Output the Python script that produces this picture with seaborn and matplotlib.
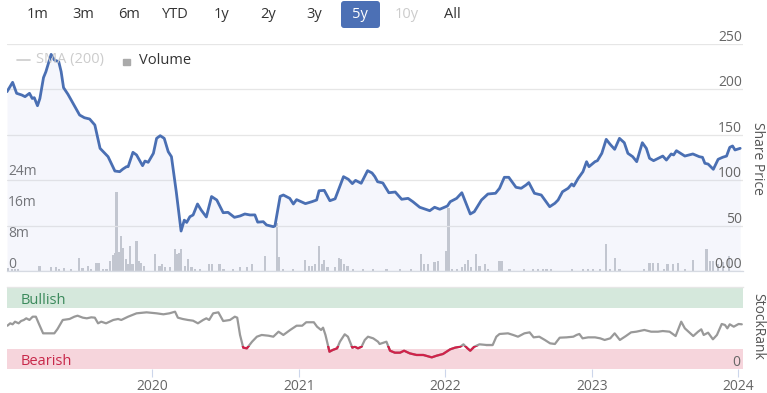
import numpy as np
import pandas as pd
import matplotlib
matplotlib.use("Agg")
import matplotlib.pyplot as plt
import matplotlib.transforms as mtrans
from matplotlib.patches import FancyBboxPatch, Rectangle
import seaborn as sns

sns.set_style("white")
plt.rcParams['font.family'] = ['Open Sans', 'DejaVu Sans']

# ---------------- data ----------------
price_dates = ["2019-01-04","2019-01-18","2019-01-28","2019-02-10","2019-02-18","2019-03-01","2019-03-08","2019-03-13",
 "2019-03-21","2019-03-27","2019-04-05","2019-04-11","2019-04-24","2019-05-02","2019-05-13","2019-05-19","2019-05-25",
 "2019-06-05","2019-07-04","2019-07-16","2019-07-29","2019-08-11","2019-08-24","2019-09-13","2019-09-30","2019-10-12",
 "2019-10-20","2019-10-29","2019-11-02","2019-11-14","2019-11-23","2019-12-08","2019-12-14","2019-12-22","2020-01-04",
 "2020-01-12","2020-01-21","2020-01-31","2020-02-10","2020-02-18","2020-03-01","2020-03-13","2020-03-21","2020-03-27",
 "2020-04-04","2020-04-12","2020-04-23","2020-05-02","2020-05-15","2020-05-28","2020-06-10","2020-06-26","2020-07-08",
 "2020-07-24","2020-08-07","2020-08-19","2020-09-01","2020-09-13","2020-09-20","2020-10-04","2020-10-12","2020-10-29",
 "2020-11-02","2020-11-15","2020-11-23","2020-12-09","2020-12-18","2020-12-26","2021-01-17","2021-02-02","2021-02-14",
 "2021-02-20","2021-03-05","2021-03-19","2021-04-01","2021-04-22","2021-05-04","2021-05-14","2021-05-22","2021-06-05",
 "2021-06-21","2021-07-02","2021-07-09","2021-07-16","2021-07-29","2021-08-13","2021-08-29","2021-09-14","2021-09-30",
 "2021-10-12","2021-10-29","2021-11-23","2021-12-05","2021-12-18","2022-01-06","2022-01-13","2022-01-29","2022-02-11",
 "2022-02-23","2022-03-04","2022-03-14","2022-04-01","2022-04-17","2022-05-06","2022-05-16","2022-05-28","2022-06-08",
 "2022-06-26","2022-07-09","2022-07-21","2022-07-28","2022-08-11","2022-08-28","2022-09-18","2022-10-01","2022-10-09",
 "2022-10-20","2022-11-03","2022-11-12","2022-11-17","2022-11-28","2022-12-10","2022-12-19","2022-12-25","2023-01-09",
 "2023-01-15","2023-01-26","2023-02-06","2023-02-15","2023-02-27","2023-03-11","2023-03-23","2023-04-01","2023-04-13",
 "2023-04-23","2023-05-07","2023-05-17","2023-05-25","2023-06-04","2023-06-27","2023-07-06","2023-07-18","2023-07-24",
 "2023-07-31","2023-08-21","2023-09-10","2023-09-26","2023-10-04","2023-10-10","2023-10-18","2023-10-31","2023-11-12",
 "2023-11-23","2023-12-03","2023-12-11","2023-12-18","2023-12-24","2024-01-06"]
price_values = [197.5,207.8,195.7,193.8,192.0,195.7,190.0,190.9,182.0,190.0,213.0,219.5,238.6,232.4,230.5,219.5,201.9,
 194.6,171.8,168.8,167.4,160.8,135.1,125.9,110.1,109.4,112.3,114.9,114.9,130.7,127.8,116.0,121.1,119.7,129.6,
 146.1,149.0,146.1,131.4,125.9,87.3,44.0,56.0,53.5,59.8,61.7,73.8,67.2,59.5,82.0,78.2,64.2,64.6,
 59.1,60.6,62.8,61.7,61.8,53.8,54.3,50.7,48.8,49.6,82.2,83.7,80.0,73.8,78.6,74.2,76.3,78.2,
 88.4,88.8,77.4,79.5,103.9,101.0,96.2,99.8,96.6,110.5,108.0,104.0,98.3,97.0,86.2,87.0,79.0,80.0,
 76.3,70.2,66.4,70.2,68.0,71.6,76.3,80.0,86.2,72.7,62.8,65.3,78.2,84.8,85.6,91.1,103.2,103.2,
 92.2,91.1,94.7,97.4,85.6,83.7,70.8,74.6,78.2,87.3,91.1,95.8,93.6,102.0,109.4,120.4,114.9,120.4,
 121.5,129.6,145.0,139.9,134.0,146.1,141.3,129.6,125.9,120.4,141.3,135.1,124.1,121.5,126.6,122.2,128.9,127.8,
 132.5,126.6,128.9,125.9,125.2,118.6,117.8,112.0,123.0,125.2,126.6,136.2,137.7,133.3,135.1]

volume_dates = ["2019-01-07","2019-01-16","2019-01-24","2019-02-01","2019-03-26","2019-04-24","2019-05-06","2019-05-14",
 "2019-05-27","2019-06-13","2019-07-03","2019-07-11","2019-07-24","2019-08-02","2019-08-15","2019-08-21","2019-09-01",
 "2019-09-09","2019-09-17","2019-09-25","2019-09-30","2019-10-04","2019-10-08","2019-10-12","2019-10-16","2019-10-20",
 "2019-10-27","2019-11-02","2019-11-06","2019-11-13","2019-11-23","2019-11-29","2019-12-05","2019-12-11","2020-01-08",
 "2020-01-19","2020-01-25","2020-02-02","2020-02-14","2020-02-26","2020-03-03","2020-03-09","2020-03-13","2020-03-22",
 "2020-03-30","2020-04-08","2020-04-16","2020-04-29","2020-05-21","2020-05-30","2020-06-17","2020-06-27","2020-07-21",
 "2020-08-07","2020-08-24","2020-09-06","2020-10-08","2020-11-07","2020-11-13","2020-11-23","2020-12-18","2021-01-16",
 "2021-01-25","2021-02-02","2021-02-10","2021-02-20","2021-02-28","2021-03-05","2021-03-13","2021-03-31","2021-04-10",
 "2021-04-16","2021-04-24","2021-05-02","2021-05-15","2021-06-09","2021-07-04","2021-08-07","2021-09-09","2021-10-08",
 "2021-11-01","2021-11-09","2021-11-19","2021-12-05","2021-12-14","2022-01-03","2022-01-09","2022-01-17","2022-01-29",
 "2022-02-11","2022-02-19","2022-02-27","2022-03-06","2022-03-18","2022-03-27","2022-04-09","2022-04-17","2022-05-16",
 "2022-05-23","2022-06-10","2022-07-15","2022-08-07","2022-08-20","2022-09-02","2022-09-10","2022-09-22","2022-11-12",
 "2022-12-10","2022-12-23","2023-01-05","2023-01-22","2023-02-06","2023-02-15","2023-02-27","2023-03-11","2023-05-12",
 "2023-05-25","2023-06-02","2023-06-15","2023-07-01","2023-07-09","2023-07-22","2023-08-04","2023-08-21","2023-09-11",
 "2023-10-14","2023-10-22","2023-10-31","2023-11-12","2023-11-25","2023-12-10"]
volume_millions = [0.7,0.5,0.5,0.5,1.3,1.0,1.0,0.6,0.8,0.6,3.3,0.8,1.3,0.6,2.1,2.1,0.4,0.6,2.6,4.1,4.7,20.4,5.0,5.0,
 9.0,6.0,3.0,1.7,6.5,1.7,7.7,2.6,2.1,1.3,4.5,1.3,1.7,1.0,1.0,5.6,4.5,4.7,5.8,1.3,3.0,1.0,0.6,0.6,1.9,1.9,1.9,
 0.6,0.6,1.0,1.0,1.9,3.9,12.3,3.6,0.6,0.6,2.75,1.3,1.3,1.9,6.5,1.7,2.75,1.0,1.0,3.3,3.0,1.7,1.3,0.6,0.6,0.6,
 0.6,0.6,0.4,4.5,1.9,1.7,2.4,2.6,5.2,16.2,0.6,0.6,1.0,1.7,2.75,1.0,4.5,1.3,1.9,0.6,2.6,2.6,0.6,0.4,0.4,0.6,
 0.6,0.4,0.4,0.4,0.6,0.6,0.6,0.6,6.9,0.6,3.4,0.4,0.4,2.1,2.1,2.1,0.4,1.9,1.7,2.1,0.4,2.75,5.6,2.6,2.6,1.7,
 2.4,3.9]

rank_dates = ["2019-01-05","2019-01-12","2019-01-18","2019-01-24","2019-02-02","2019-02-08","2019-02-15","2019-02-21",
 "2019-03-01","2019-03-09","2019-03-17","2019-03-24","2019-04-04","2019-04-16","2019-05-02","2019-05-10","2019-05-23",
 "2019-06-09","2019-06-21","2019-06-29","2019-07-12","2019-07-22","2019-08-02","2019-08-11","2019-08-19","2019-08-27",
 "2019-09-08","2019-09-26","2019-10-08","2019-10-16","2019-11-02","2019-11-23","2019-12-18","2020-01-12","2020-01-29",
 "2020-02-13","2020-02-27","2020-03-05","2020-03-17","2020-03-30","2020-04-12","2020-04-24","2020-05-07","2020-05-15",
 "2020-05-22","2020-06-01","2020-06-14","2020-06-26","2020-07-13","2020-07-25","2020-07-31","2020-08-07","2020-08-15",
 "2020-08-24","2020-09-06","2020-09-18","2020-09-30","2020-10-17","2020-10-29","2020-11-11","2020-11-23","2020-12-10",
 "2020-12-26","2021-01-09","2021-01-19","2021-02-07","2021-02-15","2021-02-25","2021-03-02","2021-03-08","2021-03-18",
 "2021-03-26","2021-04-06","2021-04-13","2021-04-25","2021-05-03","2021-05-14","2021-05-20","2021-05-28","2021-06-06",
 "2021-06-14","2021-06-22","2021-07-05","2021-07-17","2021-07-21","2021-08-07","2021-08-16","2021-08-28","2021-09-10",
 "2021-09-20","2021-10-04","2021-10-21","2021-11-07","2021-11-28","2021-12-10","2021-12-26","2022-01-13","2022-01-25",
 "2022-02-07","2022-02-15","2022-02-25","2022-03-04","2022-03-14","2022-03-27","2022-04-13","2022-04-29","2022-05-08",
 "2022-05-16","2022-06-06","2022-06-19","2022-07-01","2022-07-17","2022-07-30","2022-08-09","2022-08-23","2022-09-06",
 "2022-09-19","2022-10-01","2022-10-13","2022-10-30","2022-11-16","2022-11-24","2022-12-01","2022-12-09","2022-12-23",
 "2023-01-09","2023-01-22","2023-02-02","2023-02-16","2023-02-27","2023-03-12","2023-03-27","2023-04-09","2023-04-22",
 "2023-05-12","2023-05-29","2023-06-15","2023-06-27","2023-07-14","2023-07-29","2023-08-12","2023-08-21","2023-09-11",
 "2023-09-23","2023-10-01","2023-10-07","2023-10-18","2023-10-30","2023-11-09","2023-11-21","2023-11-29","2023-12-05",
 "2023-12-11","2023-12-21","2024-01-02","2024-01-10"]
rank_values = [52.8,55.7,54.5,57.7,55.7,58.5,59.8,61.8,59.8,63.8,63.8,55.7,43.5,43.5,43.5,48.8,59.8,61.0,63.8,65.0,
 62.6,61.8,63.0,62.6,55.7,57.7,55.7,59.8,61.0,59.8,63.8,67.9,69.1,67.9,66.7,67.9,69.9,62.6,61.0,59.8,58.9,55.7,
 59.8,61.8,59.8,67.9,69.1,58.5,59.8,63.8,62.6,41.5,26.0,25.2,33.3,39.4,41.5,40.6,39.4,45.5,41.5,47.6,52.8,52.8,
 57.0,57.0,51.6,47.6,50.4,41.5,21.1,23.2,25.2,33.3,42.3,39.4,26.0,27.2,25.2,27.2,35.4,39.4,37.4,33.3,30.5,33.3,
 22.3,19.9,19.9,22.3,19.1,17.1,17.1,14.2,16.2,18.3,24.0,26.0,27.2,30.1,25.2,22.3,27.2,30.1,29.3,29.3,39.4,42.7,
 43.5,41.5,39.4,43.5,44.7,38.6,39.4,35.4,31.3,30.5,38.2,38.6,39.4,41.5,42.7,37.4,38.6,38.6,37.4,35.4,37.4,43.5,
 35.4,40.2,44.7,45.5,47.6,45.5,45.5,46.3,45.5,40.2,57.7,49.6,40.2,45.5,48.4,41.5,44.3,36.2,41.5,54.9,53.7,49.6,
 54.5,51.6,54.9,54.5]

price_ticks = [0, 50, 100, 150, 200, 250]
price_tick_labels = ["0.00", "50", "100", "150", "200", "250"]
volume_ticks_m = [0, 8, 16, 24]
volume_tick_labels = ["0", "8m", "16m", "24m"]
year_ticks = [2020, 2021, 2022, 2023, 2024]
range_buttons = ["1m", "3m", "6m", "YTD", "1y", "2y", "3y", "5y", "10y", "All"]

price_df = pd.DataFrame({"date": pd.to_datetime(price_dates), "price": price_values})
vol_df = pd.DataFrame({"date": pd.to_datetime(volume_dates), "volume": np.array(volume_millions) * 1e6})
rank_df = pd.DataFrame({"date": pd.to_datetime(rank_dates), "rank": rank_values})

# ---------------- layout ----------------
W, H = 767, 393
fig = plt.figure(figsize=(W / 100, H / 100), dpi=100)
fig.patch.set_facecolor("white")

def box(l, t, r, b):
    return [l / W, 1 - b / H, (r - l) / W, (b - t) / H]

xmin, xmax = pd.Timestamp("2019-01-04"), pd.Timestamp("2024-01-13")
TXT = "#666666"

ax_v = fig.add_axes(box(7, 44, 743, 271))
ax_p = fig.add_axes(box(7, 44, 743, 271))
ax_v.set_zorder(1)
ax_p.set_zorder(2)
ax_p.patch.set_visible(False)

# volume bars
ax_v.bar(vol_df["date"], vol_df["volume"], width=5.5, color="#c3c6cc", linewidth=0)
ax_v.set_ylim(0, 58.6e6)
ax_v.set_xlim(xmin, xmax)
ax_v.axis("off")

# price
ax_p.fill_between(price_df["date"], price_df["price"], 0, color="#bec8eb", alpha=0.15, linewidth=0, zorder=1)
sns.lineplot(data=price_df, x="date", y="price", ax=ax_p, color="#4a6fb3", linewidth=2.0, zorder=3)
ax_p.set_xlim(xmin, xmax)
ax_p.set_ylim(0, 250)
ax_p.set_yticks(price_ticks)
ax_p.grid(axis="y", color="#e6e6e6", linewidth=0.9)
ax_p.grid(axis="x", visible=False)
ax_p.tick_params(left=False, right=False, bottom=False, labelleft=False, labelbottom=False)
ax_p.set_xlabel("")
ax_p.set_ylabel("")
for s in ["top", "left", "right"]:
    ax_p.spines[s].set_visible(False)
ax_p.spines["bottom"].set_color("#d6dae2")
ax_p.spines["bottom"].set_linewidth(0.9)

up = mtrans.ScaledTranslation(0, 3 / 100, fig.dpi_scale_trans)
tr_p = mtrans.blended_transform_factory(ax_p.transAxes, ax_p.transData) + up
for v, lab in zip(price_ticks, price_tick_labels):
    ax_p.text(0.9986, v, lab, transform=tr_p, ha="right", va="baseline", fontsize=10, color=TXT)
tr_v = mtrans.blended_transform_factory(ax_v.transAxes, ax_v.transData) + up
for v, lab in zip(volume_ticks_m, volume_tick_labels):
    ax_v.text(0.0015, v * 1e6, lab, transform=tr_v, ha="left", va="baseline", fontsize=10, color=TXT)

# ---------------- StockRank panel ----------------
ax_r = fig.add_axes(box(7, 287, 743, 369))
ax_r.set_xlim(xmin, xmax)
ax_r.set_ylim(0, 100)
ax_r.axhspan(75, 100, color="#d5e8dc", linewidth=0, zorder=0)
ax_r.axhspan(0, 24.5, color="#f6d5dc", linewidth=0, zorder=0)
sns.lineplot(data=rank_df, x="date", y="rank", ax=ax_r, color="#999999", linewidth=1.6, zorder=2)
sns.lineplot(data=rank_df, x="date", y="rank", ax=ax_r, color="#d0234a", linewidth=1.6, zorder=3)
clip = Rectangle((0, 0), 1, 0.28, transform=ax_r.transAxes)
ax_r.lines[-1].set_clip_path(clip)
ax_r.set_xlabel("")
ax_r.set_ylabel("")
ax_r.set_yticks([])
ax_r.set_xticks([pd.Timestamp(f"{y}-01-01") for y in year_ticks])
ax_r.set_xticklabels([str(y) for y in year_ticks])
ax_r.tick_params(axis="x", bottom=True, direction="out", length=6, width=0.8, color="#ccd6eb",
                 labelsize=10, labelcolor=TXT, pad=1.5)
for s in ["left", "right", "bottom"]:
    ax_r.spines[s].set_visible(False)
ax_r.spines["top"].set_color("#e6e6e6")
ax_r.spines["top"].set_linewidth(1.0)
tr_r = mtrans.blended_transform_factory(ax_r.transAxes, ax_r.transData) + up
ax_r.text(0.996, 0, "0", transform=tr_r, ha="right", va="baseline", fontsize=10, color=TXT)
down = mtrans.ScaledTranslation(0, -3 / 100, fig.dpi_scale_trans)
tr_band = mtrans.blended_transform_factory(ax_r.transAxes, ax_r.transData) + down
ax_r.text(0.018, 87.5, "Bullish", transform=tr_band, ha="left", va="center", fontsize=10.5, color="#3b8a5c")
ax_r.text(0.018, 12.2, "Bearish", transform=tr_band, ha="left", va="center", fontsize=10.5, color="#c8284a")

# right side titles
fig.text(757.5 / W, 1 - 158 / H, "Share Price", rotation=270, ha="center", va="center", fontsize=10, color="#555555")
fig.text(758 / W, 1 - 326.5 / H, "StockRank", rotation=270, ha="center", va="center", fontsize=10, color="#555555")

# legend
fig.add_artist(plt.Line2D([17 / W, 30 / W], [1 - 60 / H, 1 - 60 / H], color="#cccccc", linewidth=1.2,
                          transform=fig.transFigure))
fig.text(36 / W, 1 - 60 / H, "SMA (200)", ha="left", va="center", fontsize=10.5, color="#cccccc")
fig.add_artist(Rectangle((123, H - 65), 6.5, 6.5, transform=mtrans.IdentityTransform(), color="#aaaaaa"))
fig.text(139 / W, 1 - 60 / H, "Volume", ha="left", va="center", fontsize=10.5, color="#333333")

# range buttons
btn_x = [37.5, 83.5, 129, 175.5, 221.7, 268, 314, 360.3, 406.7, 452.7]
fig.add_artist(FancyBboxPatch((341, H - 28), 39, 27, boxstyle="round,pad=0,rounding_size=3",
                              transform=mtrans.IdentityTransform(), facecolor="#4c70b5", edgecolor="none"))
for lab, x in zip(range_buttons, btn_x):
    col = "#333333"
    if lab == "5y":
        col = "white"
    elif lab == "10y":
        col = "#cccccc"
    fig.text(x / W, 1 - 15 / H, lab, ha="center", va="center", fontsize=10.5, color=col)

fig.savefig("out.png", dpi=100)
